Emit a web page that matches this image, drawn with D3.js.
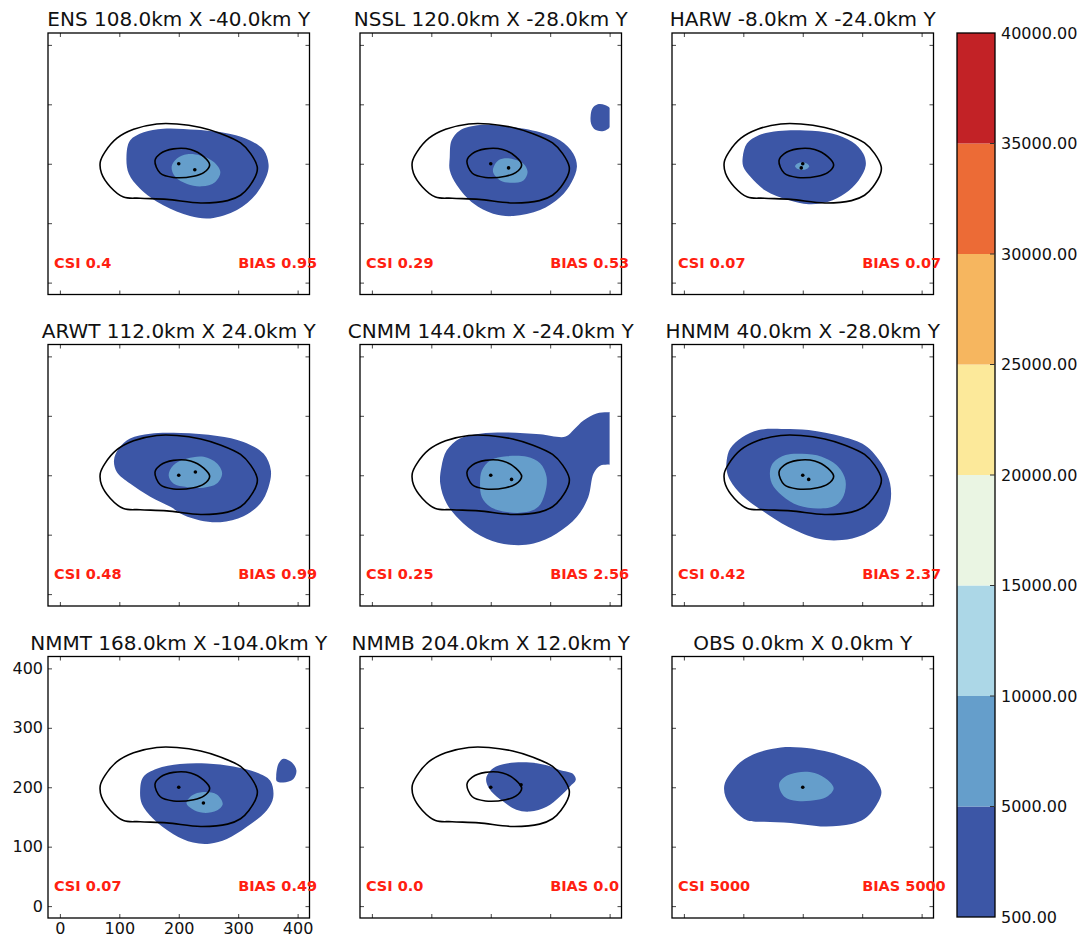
<!DOCTYPE html>
<html>
<head>
<meta charset="utf-8">
<script src="https://cdn.jsdelivr.net/npm/d3@7"></script>
<style>
  body { margin: 0; background: #fff; }
  svg { font-family: "DejaVu Sans", sans-serif; }
</style>
</head>
<body>
<svg id="chart" width="1084" height="937"></svg>
<script>
// panel metadata
const models = ['ENS', 'NSSL', 'HARW', 'ARWT', 'CNMM', 'HNMM', 'NMMT', 'NMMB', 'OBS'];
const shiftX = [108, 120, -8, 112, 144, 40, 168, 204, 0];
const shiftY = [-40, -28, -24, 24, -24, -28, -104, 12, 0];
const csi = ['0.4', '0.29', '0.07', '0.48', '0.25', '0.42', '0.07', '0.0', '5000'];
const bias = ['0.95', '0.53', '0.07', '0.99', '2.56', '2.37', '0.49', '0.0', '5000'];

// colour levels
const levels = [500, 5000, 10000, 15000, 20000, 25000, 30000, 35000, 40000];
const levelColors = ['#3c56a6', '#659ecb', '#acd7e7', '#eaf5e3', '#fce99a', '#f6b65f', '#ec6b36', '#c22226'];
const ticks = [0, 100, 200, 300, 400];

// observed field contours (km)
const obsOuter = [[68,203],[76,220],[96,243],[124,258],[163,267],[197,267],[237,261],[270,251],[304,235],[321,217],[332,195],[331,184],[318,161],[304,147],[282,138],[237,134],[180,140],[135,142],[107,144],[85,161],[70,184]];
const obsInner = [[160,205],[169,217],[191,225],[220,224],[242,212],[252,198],[242,185],[225,179],[191,177],[169,184]];

// forecast fields: 500 level (outer) and 5000 level (inner)
const ensOuter = [[112,211],[118,239],[141,253],[174,259],[230,257],[287,250],[320,239],[343,223],[351,200],[349,183],[331,150],[298,122],[253,108],[219,112],[174,130],[135,158],[116,183]];
const ensInner = [[188,195],[197,209],[214,216],[236,214],[259,203],[270,186],[261,169],[239,162],[214,166],[194,178]];
const nsslOuter = [[131,211],[134,239],[148,256],[182,265],[227,263],[283,253],[317,239],[339,217],[345,195],[336,169],[317,144],[283,122],[238,112],[204,116],[171,133],[143,164],[131,189]];
const nsslBlob = [[368,280],[371,293],[380,300],[392,299],[402,292],[402,264],[390,255],[376,257],[369,267]];
const nsslInner = [[204,192],[213,206],[232,209],[255,200],[262,186],[255,172],[235,168],[216,172],[205,183]];
const harwOuter = [[99,211],[106,234],[126,248],[159,255],[204,256],[249,251],[283,237],[302,217],[306,197],[294,172],[271,150],[243,136],[210,132],[176,139],[137,155],[112,178],[100,195]];
const harwInner = [[187,196],[192,201],[199,202.5],[206,201],[211,196],[206,191],[199,189.5],[192,191]];
const arwtOuter = [[91,225],[99,245],[118,262],[152,270],[203,271],[265,266],[309,256],[343,236],[355,208],[351,180],[337,152],[309,131],[270,121],[236,124],[208,133],[186,147],[152,164],[118,186],[96,205]];
const arwtInner = [[183,200],[191,217],[214,228],[242,231],[264,220],[273,203],[264,186],[242,179],[214,180],[191,186]];
const cnmmOuter = [[115,186],[117,214],[126,242],[148,262],[182,270],[227,272],[283,269],[326,265],[340,277],[356,292],[378,304],[396,306],[410,305],[410,219],[396,218],[384,216],[373,203],[364,163],[345,130],[311,102],[272,85],[232,83],[193,93],[154,119],[126,152]];
const cnmmInner = [[182,186],[185,208],[199,225],[227,232],[261,231],[283,220],[294,197],[291,169],[280,147],[260,138],[227,138],[199,147],[185,163]];
const hnmmOuter = [[72,225],[78,245],[98,264],[126,276],[165,278],[210,276],[266,265],[305,250],[333,219],[347,186],[347,152],[333,121],[300,99],[266,91],[227,93],[176,113],[131,141],[98,166],[78,191],[72,208]];
const hnmmInner = [[145,208],[151,222],[171,234],[199,236],[232,231],[260,214],[272,191],[269,166],[255,149],[227,144],[193,149],[165,166],[148,186]];
const nmmtOuter = [[135,194],[140,217],[163,231],[202,239],[247,240],[292,235],[331,225],[354,211],[359,183],[348,161],[314,133],[281,113],[252,105],[224,107],[191,121],[157,147],[138,172]];
const nmmtBlob = [[364,219],[368,240],[376,248],[390,242],[398,228],[393,214],[376,208],[365,210]];
const nmmtInner = [[213,173],[222,186],[241,192],[264,188],[274,172],[264,161],[241,157],[222,164]];
const nmmbOuter = [[193,218],[204,232],[227,240],[260,242],[294,237],[316,229],[339,222],[343,212],[333,201],[316,184],[294,167],[266,159],[243,162],[221,176],[201,193],[193,207]];

// centroids
const obsCenter = [200, 200];
const fcstCenterX = [227, 230, 197.5, 228, 235, 210, 241.5, 251];
const fcstCenterY = [190, 193, 193, 205.5, 193, 193, 173.5, 204];

const outerShapes = [[ensOuter], [nsslOuter, nsslBlob], [harwOuter], [arwtOuter], [cnmmOuter], [hnmmOuter], [nmmtOuter, nmmtBlob], [nmmbOuter], [obsOuter]];
const innerShapes = [[ensInner], [nsslInner], [harwInner], [arwtInner], [cnmmInner], [hnmmInner], [nmmtInner], [], [obsInner]];

const svg = d3.select('#chart');
const colLeft = [48, 360, 672];
const rowTop = [33, 344.5, 656.5];
const size = 261.5;
const textRed = '#ff2010';

models.forEach(function(name, i) {
  const left = colLeft[i % 3];
  const top = rowTop[Math.floor(i / 3)];
  const x = d3.scaleLinear().domain([-20, 420]).range([left, left + size]);
  const y = d3.scaleLinear().domain([-20, 420]).range([top + size, top]);
  const labels = i === 6;

  const g = svg.append('g').attr('class', 'panel');

  const clipId = 'clip' + i;
  g.append('clipPath').attr('id', clipId)
    .append('rect')
    .attr('x', x(0)).attr('y', y(400))
    .attr('width', x(400) - x(0)).attr('height', y(0) - y(400));

  const line = d3.line()
    .x(function(d) { return x(d[0]); })
    .y(function(d) { return y(d[1]); })
    .curve(d3.curveCatmullRomClosed.alpha(0.5));

  const fills = g.append('g').attr('clip-path', 'url(#' + clipId + ')');
  fills.selectAll('path.outer').data(outerShapes[i]).enter().append('path')
    .attr('class', 'outer').attr('d', line).attr('fill', levelColors[0]);
  fills.selectAll('path.inner').data(innerShapes[i]).enter().append('path')
    .attr('class', 'inner').attr('d', line).attr('fill', levelColors[1]);

  // obs contours on forecast panels
  if (name !== 'OBS') {
    g.selectAll('path.obs').data([obsOuter, obsInner]).enter().append('path')
      .attr('class', 'obs').attr('d', line)
      .attr('fill', 'none').attr('stroke', '#000').attr('stroke-width', 1.6);
  }

  const centers = name === 'OBS' ? [obsCenter] : [obsCenter, [fcstCenterX[i], fcstCenterY[i]]];
  g.selectAll('circle').data(centers).enter().append('circle')
    .attr('cx', function(d) { return x(d[0]); })
    .attr('cy', function(d) { return y(d[1]); })
    .attr('r', 1.8).attr('fill', '#000');

  // axes, ticks inward on all sides
  const axes = [
    [d3.axisBottom(x), 'translate(0,' + (top + size) + ')'],
    [d3.axisTop(x), 'translate(0,' + top + ')'],
    [d3.axisLeft(y), 'translate(' + left + ',0)'],
    [d3.axisRight(y), 'translate(' + (left + size) + ',0)']
  ];
  axes.forEach(function(a, k) {
    const showText = labels && (k === 0 || k === 2);
    const ax = a[0].tickValues(ticks).tickSizeInner(-4).tickSizeOuter(0).tickPadding(5)
      .tickFormat(showText ? d3.format('d') : '');
    const ag = g.append('g').attr('transform', a[1]).call(ax);
    ag.select('.domain').remove();
    ag.selectAll('line').attr('stroke', '#444');
    ag.selectAll('text').attr('font-size', 16).attr('fill', '#111')
      .attr('font-family', '"DejaVu Sans", sans-serif');
  });

  g.append('rect')
    .attr('x', left).attr('y', top).attr('width', size).attr('height', size)
    .attr('fill', 'none').attr('stroke', '#000').attr('stroke-width', 1.3);

  g.append('text')
    .attr('x', left + size / 2).attr('y', top - 7)
    .attr('text-anchor', 'middle').attr('font-size', 20).attr('fill', '#111')
    .text(name + ' ' + shiftX[i].toFixed(1) + 'km X ' + shiftY[i].toFixed(1) + 'km Y');

  g.append('text')
    .attr('x', x(-10)).attr('y', y(25))
    .attr('font-size', 14.5).attr('font-weight', 'bold').attr('fill', textRed)
    .text('CSI ' + csi[i]);
  g.append('text')
    .attr('x', x(300)).attr('y', y(25))
    .attr('font-size', 14.5).attr('font-weight', 'bold').attr('fill', textRed)
    .text('BIAS ' + bias[i]);
});

// colorbar
const cbLeft = 957, cbWidth = 38;
const cb = d3.scalePoint().domain(levels).range([917, 33]);
const cbg = svg.append('g').attr('class', 'colorbar');
cbg.selectAll('rect.band').data(levelColors).enter().append('rect')
  .attr('class', 'band')
  .attr('x', cbLeft)
  .attr('y', function(d, i) { return cb(levels[i + 1]); })
  .attr('width', cbWidth)
  .attr('height', function(d, i) { return cb(levels[i]) - cb(levels[i + 1]); })
  .attr('fill', function(d) { return d; });
cbg.append('rect')
  .attr('x', cbLeft).attr('y', 33).attr('width', cbWidth).attr('height', 917 - 33)
  .attr('fill', 'none').attr('stroke', '#000').attr('stroke-width', 1.3);
cbg.selectAll('line.tick').data(levels.slice(1, -1)).enter().append('line')
  .attr('class', 'tick')
  .attr('x1', cbLeft + cbWidth - 5).attr('x2', cbLeft + cbWidth)
  .attr('y1', function(d) { return cb(d); }).attr('y2', function(d) { return cb(d); })
  .attr('stroke', '#333');
cbg.selectAll('text').data(levels).enter().append('text')
  .attr('x', cbLeft + cbWidth + 6)
  .attr('y', function(d) { return cb(d); })
  .attr('dy', '0.35em')
  .attr('font-size', 16).attr('fill', '#111')
  .text(d3.format('.2f'));
</script>
</body>
</html>
